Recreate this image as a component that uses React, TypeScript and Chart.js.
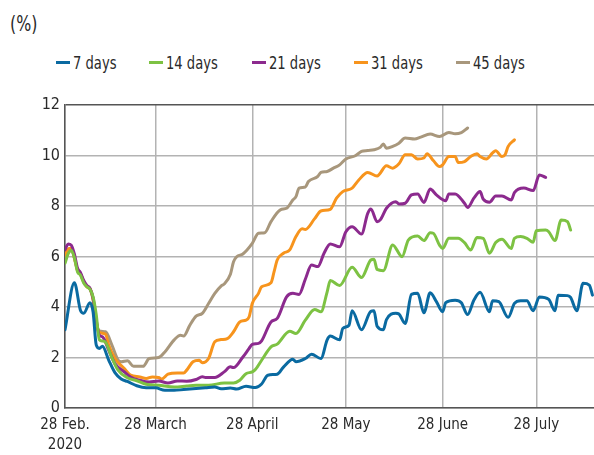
import React, { useEffect, useRef } from 'react';
import { Chart, registerables } from 'chart.js';

Chart.register(...registerables);

const FONT = "'DejaVu Sans Condensed', 'Liberation Sans Narrow', sans-serif";

const seriesNames = ['7 days', '14 days', '21 days', '31 days', '45 days'];
const seriesColors = ['#0a6aa1', '#7dc243', '#8c2a8e', '#f7941d', '#a8977c'];

// x = days since 28 Feb. 2020
const xTickDays = [0, 29, 60, 90, 121, 151];
const xTickLabels: (string | string[])[] = [['28 Feb.', '2020'], '28 March', '28 April', '28 May', '28 June', '28 July'];
const yTickValues = [0, 2, 4, 6, 8, 10, 12];

const days7: [number, number][] = [
  [0, 3.1], [3, 4.96], [5, 3.85], [6, 3.75], [8, 4.17], [9, 3.8], [10, 2.5], [11, 2.36], [12, 2.45], [14, 1.9],
  [16, 1.4], [18, 1.15], [20, 1.05], [23, 0.88], [26, 0.8], [29, 0.8], [32, 0.7], [35, 0.7], [38, 0.73], [42, 0.77],
  [45, 0.8], [48, 0.83], [50, 0.76], [53, 0.79], [55, 0.75], [58, 0.86], [61, 0.81], [63, 0.95], [65, 1.3], [68, 1.34],
  [70, 1.62], [73, 1.93], [74, 1.83], [77, 1.96], [79, 2.13], [82, 1.96], [84, 2.7], [85, 2.85], [88, 2.7], [89, 3.15],
  [91, 3.28], [92, 3.85], [95, 3.1], [98, 3.83], [99, 3.85], [100, 3.24], [102, 3.1], [103, 3.5], [106, 3.75], [107, 3.72],
  [109, 3.35], [111, 4.5], [113, 4.54], [115, 3.77], [117, 4.56], [119, 4.21], [121, 3.81], [122, 4.17], [125, 4.27], [127, 4.17],
  [129, 3.7], [131, 4.27], [133, 4.58], [136, 3.81], [137, 4.25], [139, 4.21], [142, 3.59], [144, 4.14], [146, 4.25], [148, 4.25],
  [150, 3.85], [152, 4.4], [155, 4.3], [157, 3.85], [158, 4.47], [161, 4.45], [162, 4.38], [164, 3.85], [166, 4.94], [168, 4.87],
  [169, 4.47],
];

const days14: [number, number][] = [
  [0, 5.73], [1, 6.1], [2, 6.25], [3, 5.95], [4, 5.4], [5, 5.25], [6, 4.95], [7, 4.8], [8, 4.7], [9, 4.4],
  [10, 3.7], [11, 2.7], [12, 2.65], [13, 2.6], [15, 2.0], [17, 1.5], [20, 1.2], [23, 1.08], [26, 0.94], [30, 0.9],
  [35, 0.83], [39, 0.87], [42, 0.9], [46, 0.9], [51, 0.99], [54, 0.99], [56, 1.1], [58, 1.36], [60, 1.43], [61, 1.52],
  [63, 1.89], [66, 2.42], [68, 2.53], [72, 3.04], [74, 2.95], [77, 3.48], [80, 3.9], [82, 3.81], [84, 4.6], [85, 5.05],
  [88, 4.85], [92, 5.57], [95, 5.17], [98, 5.86], [99, 5.89], [100, 5.49], [102, 5.44], [105, 6.46], [108, 5.99], [110, 6.65],
  [113, 6.81], [115, 6.63], [117, 6.94], [118, 6.92], [120, 6.45], [121, 6.32], [123, 6.72], [126, 6.72], [128, 6.55], [130, 6.26],
  [132, 6.75], [134, 6.72], [136, 6.13], [138, 6.55], [140, 6.68], [143, 6.32], [144, 6.72], [146, 6.79], [148, 6.72], [150, 6.56],
  [151, 7.02], [154, 7.05], [155, 6.98], [157, 6.63], [159, 7.45], [161, 7.38], [162, 7.05],
];

const days21: [number, number][] = [
  [0, 6.26], [1, 6.5], [2, 6.45], [3, 6.1], [4, 5.55], [5, 5.35], [6, 5.05], [7, 4.85], [8, 4.75], [9, 4.35],
  [10, 3.5], [11, 2.88], [12, 2.82], [14, 2.29], [16, 1.76], [19, 1.43], [21, 1.23], [24, 1.1], [27, 1.03], [30, 1.07],
  [33, 0.99], [36, 1.07], [39, 1.06], [42, 1.13], [44, 1.24], [45, 1.21], [48, 1.21], [51, 1.43], [53, 1.63], [54, 1.6],
  [57, 2.02], [59, 2.36], [60, 2.52], [62, 2.56], [63, 2.66], [66, 3.41], [68, 3.55], [71, 4.4], [73, 4.54], [75, 4.5],
  [77, 5.1], [79, 5.66], [81, 5.6], [83, 6.13], [85, 6.5], [88, 6.39], [90, 6.98], [92, 7.18], [95, 6.89], [97, 7.71],
  [98, 7.88], [100, 7.38], [101, 7.45], [103, 7.91], [106, 8.17], [107, 8.08], [109, 8.11], [111, 8.44], [113, 8.48], [115, 8.14],
  [117, 8.67], [119, 8.44], [122, 8.21], [123, 8.48], [125, 8.48], [128, 8.11], [129, 7.94], [131, 8.31], [133, 8.57], [134, 8.27],
  [136, 8.15], [138, 8.4], [140, 8.4], [143, 8.24], [144, 8.53], [147, 8.71], [150, 8.61], [152, 9.23], [154, 9.13],
];

const days31: [number, number][] = [
  [0, 6.05], [1, 6.3], [2, 6.33], [3, 5.95], [4, 5.45], [5, 5.3], [6, 5.0], [7, 4.8], [8, 4.72], [9, 4.3],
  [10, 3.4], [11, 3.0], [13, 2.92], [14, 2.49], [16, 1.96], [19, 1.56], [21, 1.3], [24, 1.23], [26, 1.17], [28, 1.23],
  [30, 1.21], [31, 1.15], [33, 1.34], [36, 1.39], [38, 1.39], [39, 1.5], [41, 1.83], [43, 1.89], [44, 1.79], [46, 1.96],
  [48, 2.62], [50, 2.71], [52, 2.75], [54, 3.02], [56, 3.41], [58, 3.48], [59, 3.61], [60, 4.14], [62, 4.54], [63, 4.8],
  [66, 4.96], [67, 5.4], [68, 5.86], [70, 6.13], [72, 6.26], [74, 6.79], [76, 7.1], [77, 7.07], [80, 7.5], [82, 7.8],
  [85, 7.87], [87, 8.31], [89, 8.57], [92, 8.71], [94, 9.01], [97, 9.33], [100, 9.19], [103, 9.59], [105, 9.5], [107, 9.67],
  [109, 10.03], [111, 10.03], [113, 9.86], [115, 9.9], [116, 10.07], [118, 9.8], [120, 9.56], [121, 9.63], [123, 9.96], [125, 9.96],
  [126, 9.72], [128, 9.76], [130, 9.96], [132, 10.07], [133, 9.96], [135, 9.86], [137, 10.1], [138, 10.19], [140, 9.96], [141, 10.03],
  [142, 10.36], [144, 10.62],
];

const days45: [number, number][] = [
  [0, 6.0], [1, 6.25], [2, 6.33], [3, 5.95], [4, 5.45], [5, 5.3], [6, 5.0], [7, 4.82], [8, 4.72], [9, 4.3],
  [10, 3.4], [11, 3.05], [13, 3.02], [15, 2.5], [17, 1.9], [18, 1.83], [20, 1.87], [22, 1.65], [25, 1.65], [27, 1.96],
  [30, 2.0], [32, 2.22], [35, 2.7], [37, 2.88], [38, 2.85], [40, 3.28], [42, 3.64], [44, 3.75], [46, 4.14], [48, 4.54],
  [50, 4.83], [51, 4.91], [53, 5.3], [54, 5.79], [55, 5.99], [57, 6.1], [60, 6.52], [62, 6.92], [64, 6.94], [66, 7.38],
  [69, 7.85], [71, 7.91], [73, 8.24], [74, 8.37], [75, 8.71], [77, 8.75], [78, 8.97], [81, 9.17], [82, 9.33], [84, 9.37],
  [86, 9.5], [88, 9.63], [90, 9.86], [93, 9.99], [95, 10.16], [97, 10.2], [99, 10.23], [101, 10.32], [102, 10.46], [103, 10.29],
  [105, 10.36], [107, 10.49], [109, 10.69], [112, 10.65], [114, 10.73], [117, 10.85], [120, 10.75], [123, 10.91], [125, 10.86], [127, 10.91],
  [129, 11.09],
];

const seriesData = [days7, days14, days21, days31, days45];

const legendLefts = [56, 149, 252, 354, 456];

export default function App() {
  const canvasRef = useRef<HTMLCanvasElement | null>(null);

  useEffect(() => {
    const canvas = canvasRef.current;
    if (!canvas) return;
    const chart = new Chart(canvas, {
      type: 'line',
      data: {
        datasets: seriesData.map((pts, i) => ({
          label: seriesNames[i],
          data: pts.map(([x, y]) => ({ x, y })),
          borderColor: seriesColors[i],
          backgroundColor: seriesColors[i],
          borderWidth: 3,
          pointRadius: 0,
          cubicInterpolationMode: 'monotone' as const,
          borderJoinStyle: 'round' as const,
          borderCapStyle: 'round' as const,
        })),
      },
      options: {
        responsive: false,
        animation: false,
        layout: { padding: { top: 105, left: 0, right: 0, bottom: 0 } },
        plugins: { legend: { display: false }, tooltip: { enabled: false }, title: { display: false } },
        scales: {
          x: {
            type: 'linear',
            min: 0,
            max: 169.5,
            afterBuildTicks: (s: any) => {
              s.ticks = xTickDays.map((v) => ({ value: v }));
            },
            afterFit: (s: any) => {
              s.height = 47;
            },
            ticks: {
              autoSkip: false,
              maxRotation: 0,
              padding: 7,
              color: '#2a2a2a',
              font: { family: FONT, size: 15, lineHeight: 1.33 },
              callback: (v: any) => {
                const idx = xTickDays.indexOf(Number(v));
                return idx >= 0 ? xTickLabels[idx] : '';
              },
            },
            grid: { color: '#b3b3b3', lineWidth: 1.5, drawTicks: false },
            border: { color: '#555555', width: 1.5 },
          },
          y: {
            type: 'linear',
            min: 0,
            max: 12,
            afterBuildTicks: (s: any) => {
              s.ticks = yTickValues.map((v) => ({ value: v }));
            },
            afterFit: (s: any) => {
              s.width = 65;
            },
            ticks: {
              padding: 5,
              color: '#2a2a2a',
              font: { family: FONT, size: 16 },
            },
            grid: {
              color: (c: any) => (c.tick && c.tick.value === 12 ? '#555555' : '#b3b3b3'),
              lineWidth: 1.5,
              drawTicks: false,
            },
            border: { color: '#555555', width: 1.5 },
          },
        },
      },
    });
    return () => chart.destroy();
  }, []);

  return (
    <div style={{ position: 'absolute', left: 0, top: 0, width: 594, height: 455, background: '#fff', overflow: 'hidden', fontFamily: FONT, color: '#2a2a2a' }}>
      <div style={{ position: 'absolute', left: 10, top: 10, fontSize: 22, lineHeight: '28px', transform: 'scaleX(0.8)', transformOrigin: 'left center' }}>(%)</div>
      {seriesNames.map((name, i) => (
        <div key={name} style={{ position: 'absolute', left: legendLefts[i], top: 50, height: 24, display: 'flex', alignItems: 'center', whiteSpace: 'nowrap' }}>
          <span style={{ display: 'inline-block', width: 14, height: 3, background: seriesColors[i], marginRight: 3 }} />
          <span style={{ display: 'inline-block', fontSize: 18, transform: 'scaleX(0.81)', transformOrigin: 'left center' }}>{name}</span>
        </div>
      ))}
      <canvas ref={canvasRef} width={594} height={455} style={{ position: 'absolute', left: 0, top: 0 }} />
    </div>
  );
}
